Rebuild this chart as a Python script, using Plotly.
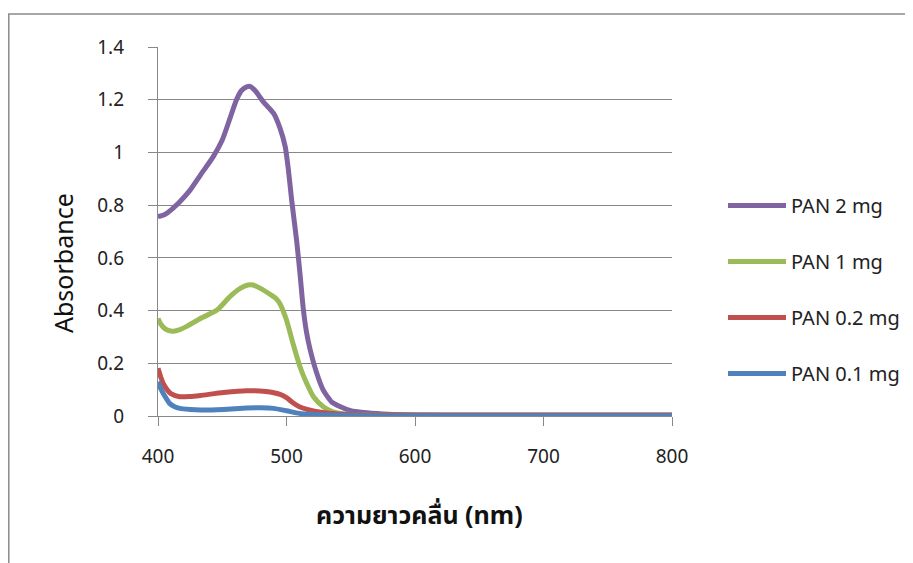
import plotly.graph_objects as go

# ---- data ----
wl_p2 = [400, 403, 407, 412, 417, 425, 433, 443, 450, 456, 461, 465, 469, 472, 476, 482, 490, 495, 499, 501.5, 504,
         508, 510.5, 513, 515.5, 518, 523.5, 528.5, 535, 542, 550, 560, 575, 600, 650, 700, 750, 800]
abs_p2 = [0.757, 0.76, 0.77, 0.79, 0.813, 0.857, 0.914, 0.984, 1.047, 1.129, 1.199, 1.235, 1.249, 1.25, 1.232, 1.192,
          1.148, 1.091, 1.022, 0.933, 0.82, 0.66, 0.54, 0.41, 0.32, 0.26, 0.163, 0.099, 0.054, 0.035, 0.02, 0.013,
          0.008, 0.004, 0.003, 0.003, 0.003, 0.003]

wl_p1 = [400, 402, 405, 408, 412, 417, 422, 433, 446, 456, 464, 470, 474, 479, 488, 492, 495, 500, 505, 510.5, 515.7,
         521, 528.6, 536, 545, 560, 600, 700, 800]
abs_p1 = [0.37, 0.35, 0.333, 0.325, 0.322, 0.328, 0.339, 0.37, 0.402, 0.453, 0.484, 0.497, 0.497, 0.486, 0.459, 0.445,
          0.425, 0.364, 0.276, 0.187, 0.124, 0.073, 0.035, 0.016, 0.008, 0.005, 0.003, 0.003, 0.003]

wl_p02 = [400, 402, 404, 407, 410, 417, 425, 433, 451, 469, 484, 495, 500, 505, 510, 516, 528, 540, 560, 600, 700, 800]
abs_p02 = [0.181, 0.15, 0.124, 0.1, 0.085, 0.073, 0.074, 0.078, 0.089, 0.096, 0.093, 0.082, 0.07, 0.05, 0.035, 0.025,
           0.013, 0.008, 0.005, 0.004, 0.004, 0.004]

wl_p01 = [400, 402, 404, 407, 409, 413, 417, 425, 433, 451, 469, 480, 490, 500, 510, 520, 530, 560, 600, 800]
abs_p01 = [0.13, 0.105, 0.086, 0.062, 0.048, 0.035, 0.029, 0.025, 0.023, 0.025, 0.03, 0.031, 0.029, 0.02, 0.01, 0.006,
           0.004, 0.002, 0.001, 0.001]

series_names = ["PAN 2 mg", "PAN 1 mg", "PAN 0.2 mg", "PAN 0.1 mg"]
series_x = [wl_p2, wl_p1, wl_p02, wl_p01]
series_y = [abs_p2, abs_p1, abs_p02, abs_p01]
colors = ["#8064A2", "#9BBB59", "#C0504D", "#4F81BD"]

y_ticks = [0, 0.2, 0.4, 0.6, 0.8, 1, 1.2, 1.4]
y_ticktext = ["0", "0.2", "0.4", "0.6", "0.8", "1", "1.2", "1.4"]
x_ticks = [400, 500, 600, 700, 800]

FONT = "Noto Sans, Noto Sans Thai, Tahoma, DejaVu Sans, sans-serif"

fig = go.Figure()
for i, (name, xs, ys, c) in enumerate(zip(series_names, series_x, series_y, colors)):
    fig.add_trace(go.Scatter(
        x=xs, y=ys, name=name, mode="lines",
        line=dict(color=c, width=5, shape="spline", smoothing=0.6),
        legendgroup=f"g{i}",
    ))

# page body has an 8px margin; figure coordinates are page - 8
OFF = 8
W, H = 913 - OFF, 563 - OFF
L, T = 158 - OFF, 47 - OFF
PR, PB = 672 - OFF, 416 - OFF
R, B = W - PR, H - PB
pw, ph = PR - L, PB - T


def px(p):
    return (p - OFF - L) / pw


def py(p):
    return (PB - (p - OFF)) / ph


fig.update_layout(
    width=W, height=H,
    margin=dict(l=L, r=R, t=T, b=B, autoexpand=False),
    paper_bgcolor="white", plot_bgcolor="white",
    font=dict(family=FONT, size=19, color="#222"),
    showlegend=True,
    legend=dict(
        x=px(723), y=py(186), xanchor="left", yanchor="top",
        traceorder="grouped", tracegroupgap=27,
        itemwidth=58, font=dict(size=20, color="#222"),
        bgcolor="rgba(0,0,0,0)",
    ),
    xaxis=dict(
        range=[400, 800], tickvals=x_ticks, showgrid=False, zeroline=False,
        showline=True, linecolor="#888", linewidth=1.3,
        ticks="outside", ticklen=9, tickcolor="#888", tickwidth=1.3,
        ticklabelstandoff=14, tickfont=dict(size=19),
    ),
    yaxis=dict(
        range=[0, 1.4], tickvals=y_ticks, ticktext=y_ticktext,
        showgrid=True, gridcolor="#888", gridwidth=1.3, zeroline=False,
        showline=True, linecolor="#888", linewidth=1.3,
        ticks="outside", ticklen=9, tickcolor="#888", tickwidth=1.3,
        ticklabelstandoff=20, tickfont=dict(size=19),
    ),
    annotations=[
        dict(text="Absorbance", xref="paper", yref="paper",
             x=px(63), y=py(263), showarrow=False, textangle=-90,
             font=dict(size=25, color="#111"), xanchor="center", yanchor="middle"),
        dict(text="<b>ความยาวคลื่น (nm)</b>", xref="paper", yref="paper",
             x=px(419), y=py(514), showarrow=False,
             font=dict(size=25, color="#111"), xanchor="center", yanchor="middle"),
    ],
    shapes=[
        dict(type="rect", xref="paper", yref="paper",
             x0=px(8.8), x1=px(950), y0=py(620), y1=py(14),
             line=dict(color="#8a8a8a", width=1.5), fillcolor="rgba(0,0,0,0)", layer="below"),
    ],
)

fig.write_html("out.html")
